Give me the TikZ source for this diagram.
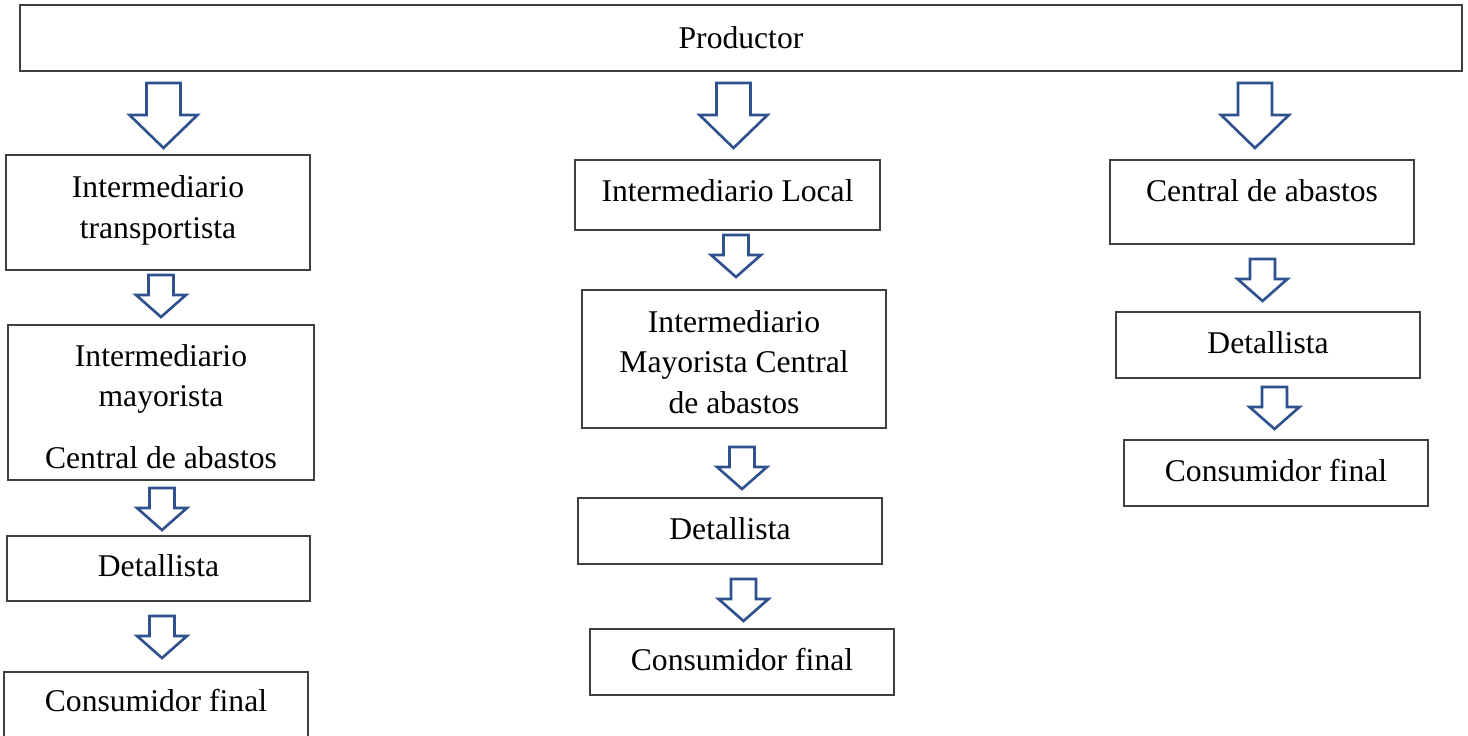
\documentclass[tikz,border=0pt]{standalone}
\usepackage{fontspec}
\setmainfont{Liberation Serif}

\definecolor{azulflecha}{RGB}{47,82,143}
\definecolor{bordecaja}{RGB}{64,64,64}

\tikzset{
  caja/.style={draw=bordecaja,line width=1pt,rectangle,inner sep=0pt,
    align=center,font=\fontsize{18}{23}\selectfont},
  linea/.style={caja,text height=12.6pt,text depth=3.2pt},
  flecha/.style={draw=azulflecha,line width=1.5pt,fill=white,line join=miter},
  flechag/.pic={\draw[flecha] (-17,0) -- (17,0) -- (17,32) -- (34,32)
    -- (0,65) -- (-34,32) -- (-17,32) -- cycle;},
  flechap/.pic={\draw[flecha] (-12.5,0) -- (12.5,0) -- (12.5,20) -- (25,20)
    -- (0,42) -- (-25,20) -- (-12.5,20) -- cycle;}
}

\begin{document}
\begin{tikzpicture}[x=0.02cm,y=-0.02cm]

  \useasboundingbox (0,0) rectangle (1468,736);

  % Productor
  \node[linea,minimum width=28.84cm,minimum height=1.32cm,text depth=1pt]
    (productor) at (741,38) {Productor};

  % Flechas grandes bajo el productor
  \pic at (163.5,83) {flechag};
  \pic at (733.5,83) {flechag};
  \pic at (1255,83) {flechag};

  % Canal 1
  \node[caja,minimum width=6.08cm,minimum height=2.30cm,text depth=6.3pt]
    (transportista) at (158,212.5) {Intermediario\\transportista};
  \pic at (161,275) {flechap};
  \node[caja,minimum width=6.12cm,minimum height=3.10cm]
    (mayorista) at (161,402.5)
    {\rule{0pt}{17pt}Intermediario\\mayorista\\[12pt]Central de abastos};
  \pic at (162,488) {flechap};
  \node[linea,minimum width=6.06cm,minimum height=1.30cm]
    (detallistaA) at (158.5,568.5) {Detallista};
  \pic at (162,616) {flechap};
  \node[linea,minimum width=6.08cm,minimum height=1.46cm,text depth=9.5pt]
    (consumidorA) at (156,708.5) {Consumidor final};

  % Canal 2
  \node[linea,minimum width=6.10cm,minimum height=1.40cm,text depth=5.5pt]
    (local) at (727.5,195) {Intermediario Local};
  \pic at (736,235) {flechap};
  \node[caja,minimum width=6.08cm,minimum height=2.76cm]
    (mayoristaB) at (734,359)
    {\rule{0pt}{16pt}Intermediario\\Mayorista Central\\de abastos};
  \pic at (742,447) {flechap};
  \node[linea,minimum width=6.08cm,minimum height=1.32cm]
    (detallistaB) at (730,531) {Detallista};
  \pic at (743.5,579) {flechap};
  \node[linea,minimum width=6.08cm,minimum height=1.32cm]
    (consumidorB) at (742,662) {Consumidor final};

  % Canal 3
  \node[linea,minimum width=6.08cm,minimum height=1.68cm,text depth=13.5pt]
    (central) at (1262,202) {Central de abastos};
  \pic at (1262.5,259) {flechap};
  \node[linea,minimum width=6.08cm,minimum height=1.32cm]
    (detallistaC) at (1268,345) {Detallista};
  \pic at (1274.5,387) {flechap};
  \node[linea,minimum width=6.08cm,minimum height=1.32cm]
    (consumidorC) at (1276,473) {Consumidor final};

\end{tikzpicture}
\end{document}
